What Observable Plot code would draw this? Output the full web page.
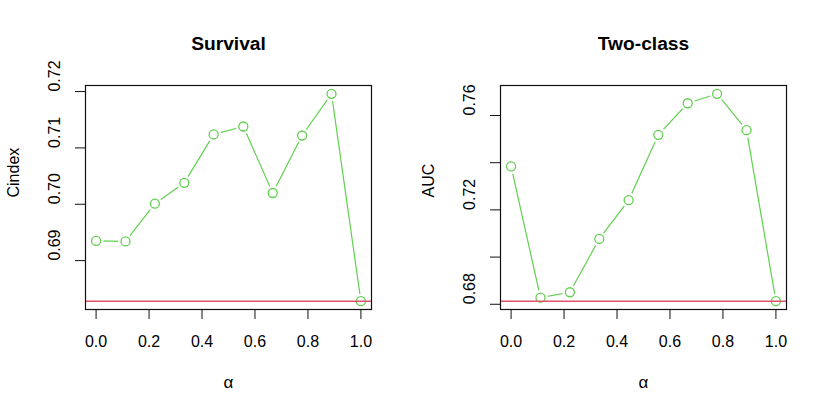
<!DOCTYPE html>
<html><head><meta charset="utf-8">
<script src="https://cdn.jsdelivr.net/npm/d3@7"></script>
<script src="https://cdn.jsdelivr.net/npm/@observablehq/plot@0.6"></script>
<style>
body{margin:0;background:#fff}
#wrap{display:flex;width:830px;height:415px}
#wrap svg{display:block}
</style>
</head><body><div id="wrap"></div>
<script>
const alpha = [0, 0.111, 0.222, 0.333, 0.444, 0.556, 0.667, 0.778, 0.889, 1];
const cindex = [0.6935, 0.6934, 0.7001, 0.7038, 0.7124, 0.7138, 0.7020, 0.7122, 0.7196, 0.6828];
const auc = [0.7384, 0.6828, 0.6851, 0.7077, 0.7241, 0.7518, 0.7652, 0.7692, 0.7538, 0.6813];
const cindexBaseline = 0.6828;
const aucBaseline = 0.6813;
const titles = ["Survival", "Two-class"];
const yLabels = ["Cindex", "AUC"];
const xLabel = "α";
const xTicks = [0, 0.2, 0.4, 0.6, 0.8, 1];
const cindexTicks = [0.69, 0.70, 0.71, 0.72];
const cindexTickLabels = [0.69, 0.70, 0.71, 0.72];
const aucTicks = [0.68, 0.70, 0.72, 0.74, 0.76];
const aucTickLabels = [0.68, 0.72, 0.76];

const FONT = "'Liberation Sans', Arial, Helvetica, sans-serif";
const GREEN = "#61D04F", RED = "#DF536B";

function panel(title, ylab, values, baseline, yTicks, yTickLabels) {
  const data = alpha.map((a, i) => ({a, v: values[i]}));
  const ext = d3.extent(values);
  const pad = (ext[1] - ext[0]) * 0.04;
  return Plot.plot({
    width: 415, height: 415,
    marginLeft: 85, marginRight: 44, marginTop: 85, marginBottom: 106,
    style: {fontFamily: FONT, fontSize: "16px", background: "white", color: "black"},
    x: {domain: [-0.04, 1.04]},
    y: {domain: [ext[0] - pad, ext[1] + pad]},
    marks: [
      Plot.line(data, {x: "a", y: "v", stroke: GREEN, strokeWidth: 1.2}),
      Plot.dot(data, {x: "a", y: "v", r: 7.5, fill: "white", stroke: null}),
      Plot.dot(data, {x: "a", y: "v", r: 4.5, fill: "none", stroke: GREEN, strokeWidth: 1.3}),
      Plot.ruleY([baseline], {stroke: RED, strokeWidth: 1.4}),
      Plot.frame({stroke: "#111", strokeWidth: 1.2}),
      Plot.axisX({ticks: xTicks, tickSize: 10, tickPadding: 16, tickFormat: d3.format(".1f"), label: null, fontSize: 16, stroke: "#111"}),
      Plot.axisY({ticks: yTicks, tickSize: 10, tickFormat: () => "", label: null, stroke: "#111"}),
      Plot.text(yTickLabels, {y: d => d, text: d3.format(".2f"), frameAnchor: "left", dx: -31, rotate: -90, lineAnchor: "middle", fontSize: 16}),
      Plot.text([ylab], {text: d => d, frameAnchor: "left", dx: -72, rotate: -90, lineAnchor: "middle", fontSize: 16}),
      Plot.text([title], {text: d => d, frameAnchor: "top", dy: -42, lineAnchor: "middle", fontSize: 19.2, fontWeight: "bold"}),
      Plot.text([xLabel], {text: d => d, frameAnchor: "bottom", dy: 73, lineAnchor: "middle", fontSize: 17})
    ]
  });
}

const wrap = document.getElementById("wrap");
wrap.appendChild(panel(titles[0], yLabels[0], cindex, cindexBaseline, cindexTicks, cindexTickLabels));
wrap.appendChild(panel(titles[1], yLabels[1], auc, aucBaseline, aucTicks, aucTickLabels));
</script>
</body></html>
